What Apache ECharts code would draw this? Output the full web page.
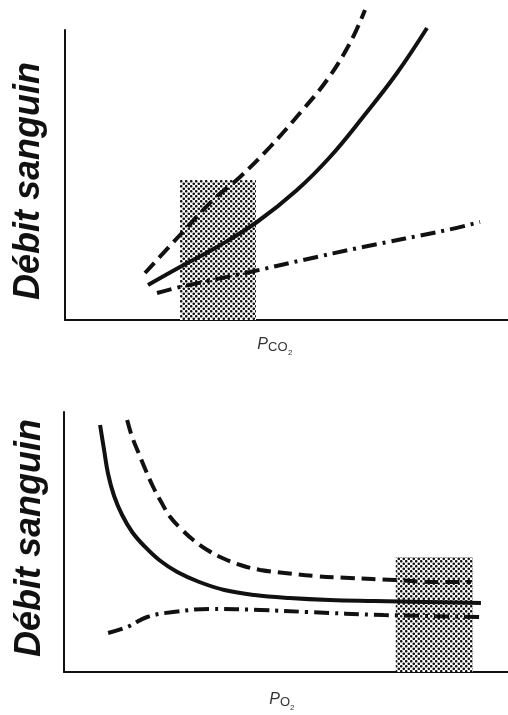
<!DOCTYPE html>
<html>
<head>
<meta charset="utf-8">
<script src="https://cdn.jsdelivr.net/npm/echarts@6/dist/echarts.min.js"></script>
<style>html,body{margin:0;padding:0;background:#fff;}#c{width:508px;height:715px;}</style>
</head>
<body>
<div id="c"></div>
<script>
// ---- Data (arbitrary units) ----
// Top panel: blood flow vs PCO2
const topSolid   = [[83,35],[115,53],[152,73],[192,98],[232,130],[265,163],[298,203],[332,247],[362,292]];
const topDashed  = [[80,47],[115,85],[148,120],[175,143],[205,173],[235,207],[262,240],[285,277],[300,310]];
const topDashDot = [[92,27],[115,33],[185,48],[238,60],[298,73],[382,90],[415,98]];
const topBand    = [115,191,140];   // x from, x to, height
// Bottom panel: blood flow vs PO2
const botSolid   = [[36,247],[40,222],[44,198],[50,176],[58,157],[68,140],[80,126],[95,112],[113,100],[135,90],[160,82],[190,77],[225,74],[265,72],[310,71],[360,70],[416,69]];
const botDashed  = [[63,252],[68,235],[74,220],[81,203],[89,185],[97,170],[106,155],[117,143],[129,132],[143,122],[158,114],[176,107],[196,102],[220,99],[250,96],[285,94],[330,92],[370,90],[406,90]];
const botDashDot = [[44,39],[63,45],[83,55],[109,60],[146,63],[196,62],[243,60],[319,57],[416,55]];
const botBand    = [331,408,115];
const yLabel = 'Débit sanguin';

const chart = echarts.init(document.getElementById('c'));

function makePattern(){
  const c = document.createElement('canvas');
  c.width = 5; c.height = 5;
  const g = c.getContext('2d');
  g.fillStyle = '#fff'; g.fillRect(0,0,5,5);
  g.fillStyle = '#111';
  [[1.25,1.25],[3.75,3.75]].forEach(p=>{g.beginPath();g.arc(p[0],p[1],1.3,0,Math.PI*2);g.fill();});
  return {image:c, repeat:'repeat'};
}
const pattern = makePattern();

const axisLine = {show:true, lineStyle:{color:'#111', width:2}};
function xAx(gi){return {type:'value', gridIndex:gi, min:0, max:443, axisLine:axisLine, axisTick:{show:false}, axisLabel:{show:false}, splitLine:{show:false}};}
function yAx(gi,max){return {type:'value', gridIndex:gi, min:0, max:max, axisLine:axisLine, axisTick:{show:false}, axisLabel:{show:false}, splitLine:{show:false}};}

function lineSeries(gi, data, type, withBand){
  const s = {type:'line', xAxisIndex:gi, yAxisIndex:gi, data:data, smooth:0.4, symbol:'none', clip:false, z:5,
    lineStyle:{color:'#111', width:4, type:type, cap:'butt'}};
  if(withBand){
    s.markArea = {silent:true, z:1, itemStyle:{color:pattern, opacity:1},
      data:[[{xAxis:withBand[0], yAxis:0},{xAxis:withBand[1], yAxis:withBand[2]}]]};
  }
  return s;
}

const dashed = [14,7];
const dashDot = [15,6,3,6];

chart.setOption({
  animation:false,
  backgroundColor:'#fff',
  grid:[
    {left:65, right:0, top:30, height:290},
    {left:64, right:0, top:412, height:260}
  ],
  xAxis:[xAx(0), xAx(1)],
  yAxis:[yAx(0,290), yAx(1,260)],
  series:[
    lineSeries(0, topSolid, 'solid', topBand),
    lineSeries(0, topDashed, dashed),
    lineSeries(0, topDashDot, dashDot),
    lineSeries(1, botSolid, 'solid', botBand),
    lineSeries(1, botDashed, dashed),
    lineSeries(1, botDashDot, dashDot)
  ],
  graphic:[
    {type:'text', x:29, y:181, rotation:Math.PI/2, style:{text:yLabel, font:'italic bold 36px "Liberation Sans", Arial, sans-serif', fill:'#111', align:'center', verticalAlign:'middle'}},
    {type:'text', x:30, y:538, rotation:Math.PI/2, style:{text:yLabel, font:'italic bold 36px "Liberation Sans", Arial, sans-serif', fill:'#111', align:'center', verticalAlign:'middle'}},
    {type:'text', x:268, y:353, style:{text:'P', font:'italic 16px "Liberation Sans", Arial, sans-serif', fill:'#333', align:'right', verticalAlign:'bottom'}},
    {type:'text', x:268, y:354, style:{text:'CO', font:'13px "Liberation Sans", Arial, sans-serif', fill:'#333', align:'left', verticalAlign:'bottom'}},
    {type:'text', x:288, y:357, style:{text:'2', font:'8px "Liberation Sans", Arial, sans-serif', fill:'#333', align:'left', verticalAlign:'bottom'}},
    {type:'text', x:280, y:708, style:{text:'P', font:'italic 16px "Liberation Sans", Arial, sans-serif', fill:'#333', align:'right', verticalAlign:'bottom'}},
    {type:'text', x:280, y:709, style:{text:'O', font:'13px "Liberation Sans", Arial, sans-serif', fill:'#333', align:'left', verticalAlign:'bottom'}},
    {type:'text', x:290, y:712, style:{text:'2', font:'8px "Liberation Sans", Arial, sans-serif', fill:'#333', align:'left', verticalAlign:'bottom'}}
  ]
});
</script>
</body>
</html>
